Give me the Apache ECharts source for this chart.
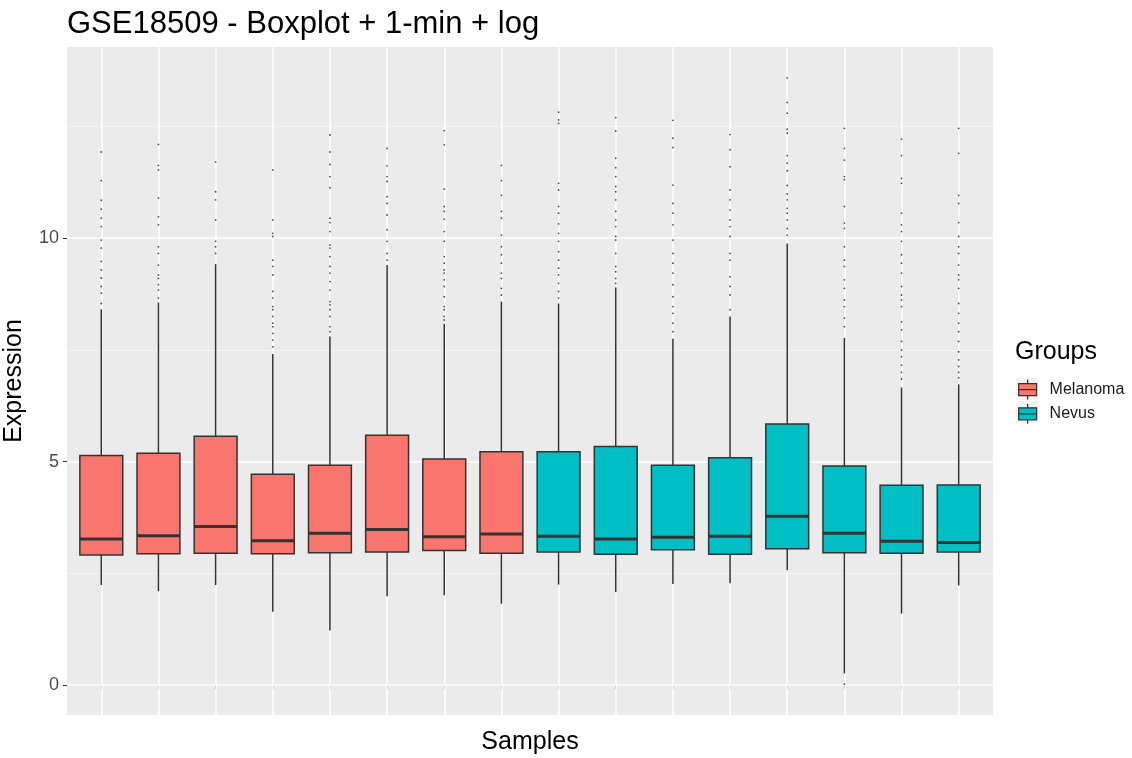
<!DOCTYPE html>
<html>
<head>
<meta charset="utf-8">
<title>GSE18509 boxplot</title>
<script src="https://cdn.jsdelivr.net/npm/echarts@6/dist/echarts.min.js"></script>
<style>
  html, body { margin: 0; padding: 0; background: #fff; }
  #chart { width: 1132px; height: 758px; }
</style>
</head>
<body>
<div id="chart"></div>
<script>
// 16 samples, first 8 melanoma, last 8 nevus
const samples = ["S1", "S2", "S3", "S4", "S5", "S6", "S7", "S8",
  "S9", "S10", "S11", "S12", "S13", "S14", "S15", "S16"];
const groups = ["Melanoma", "Melanoma", "Melanoma", "Melanoma", "Melanoma", "Melanoma", "Melanoma", "Melanoma",
  "Nevus", "Nevus", "Nevus", "Nevus", "Nevus", "Nevus", "Nevus", "Nevus"];
const groupNames = ["Melanoma", "Nevus"];
const groupColors = ["#F8766D", "#00BFC4"];

// box statistics
const whiskerLow = [2.24, 2.10, 2.24, 1.64, 1.22, 1.99, 2.01, 1.82, 2.25, 2.08, 2.26, 2.28, 2.57, 0.26, 1.60, 2.23];
const q1 = [2.91, 2.94, 2.95, 2.94, 2.96, 2.98, 3.01, 2.95, 2.98, 2.93, 3.03, 2.93, 3.05, 2.96, 2.95, 2.98];
const median = [3.27, 3.34, 3.55, 3.23, 3.40, 3.48, 3.32, 3.38, 3.33, 3.27, 3.31, 3.33, 3.78, 3.40, 3.22, 3.19];
const q3 = [5.14, 5.19, 5.57, 4.72, 4.92, 5.59, 5.06, 5.22, 5.22, 5.34, 4.92, 5.09, 5.84, 4.90, 4.47, 4.48];
const whiskerHigh = [8.41, 8.56, 9.42, 7.41, 7.80, 9.40, 8.08, 8.58, 8.54, 8.90, 7.75, 8.25, 9.88, 7.77, 6.66, 6.73];

// outlier points per sample (approximate)
const outliers = [
  [11.93, 11.29, 10.85, 10.65, 10.45, 10.26, 9.96, 9.78, 9.48, 9.29, 9.11, 8.92, 8.77, 8.54],
  [12.10, 11.63, 11.53, 10.90, 10.48, 10.30, 9.81, 9.66, 9.40, 9.18, 9.10, 8.96, 8.84, 8.66],
  [11.71, 11.04, 10.86, 10.41, 9.93, 9.81, 9.66],
  [11.53, 10.41, 10.11, 10.04, 9.51, 9.37, 9.18, 8.81, 8.66, 8.47, 8.40, 8.25, 8.10, 8.02, 7.87, 7.72, 7.57],
  [12.31, 11.93, 11.65, 11.38, 11.13, 10.45, 10.35, 10.15, 9.85, 9.78, 9.59, 9.37, 9.22, 9.03, 8.84, 8.58, 8.51, 8.40, 8.25, 8.02, 7.91],
  [12.01, 11.62, 11.38, 11.27, 10.93, 10.78, 10.52, 10.19, 9.93, 9.66, 9.51],
  [12.41, 12.09, 11.10, 10.71, 10.60, 10.43, 10.15, 9.93, 9.59, 9.44, 9.29, 9.22, 9.07, 8.92, 8.69, 8.47, 8.40, 8.25, 8.17],
  [11.63, 11.29, 10.96, 10.60, 10.45, 10.07, 9.81, 9.63, 9.44, 9.22, 9.10, 8.88, 8.73],
  [12.82, 12.65, 12.57, 11.23, 11.08, 10.71, 10.56, 10.32, 10.11, 9.93, 9.70, 9.51, 9.33, 9.18, 8.99, 8.81, 8.66],
  [12.70, 12.40, 11.79, 11.58, 11.38, 11.16, 11.04, 10.86, 10.60, 10.41, 10.26, 10.04, 9.96, 9.66, 9.37, 9.25, 9.10, 8.99],
  [12.64, 12.24, 12.03, 11.19, 10.78, 10.56, 10.30, 9.96, 9.66, 9.44, 9.22, 8.96, 8.69, 8.47, 8.32, 8.10, 7.91],
  [12.32, 11.98, 11.60, 11.08, 10.86, 10.63, 10.41, 10.26, 10.04, 9.66, 9.51, 9.14, 8.92, 8.73, 8.40],
  [13.59, 13.04, 12.80, 12.44, 12.35, 11.85, 11.68, 11.51, 11.18, 10.99, 10.86, 10.67, 10.56, 10.41, 10.22, 10.07],
  [12.46, 12.01, 11.75, 11.38, 11.31, 10.71, 10.34, 10.22, 9.81, 9.51, 9.37, 9.07, 8.88, 8.62, 8.47, 8.21, 8.02, 0.02],
  [12.22, 11.85, 11.34, 11.23, 10.56, 10.30, 10.15, 9.93, 9.63, 9.44, 9.22, 8.92, 8.73, 8.62, 8.47, 8.13, 7.95, 7.69, 7.50, 7.35, 7.16, 7.00, 6.85],
  [12.46, 11.90, 10.96, 10.78, 10.35, 10.04, 9.81, 9.66, 9.40, 9.18, 9.07, 8.88, 8.54, 8.32, 8.10, 7.91, 7.69, 7.46, 7.28, 7.13, 7.00, 6.88]
];

const yTicks = [0, 5, 10];
const yMinor = [2.5, 7.5, 12.5];

const positions = samples.map((s, i) => i + 1);

function boxData(groupName) {
  const out = [];
  samples.forEach((s, i) => {
    if (groups[i] !== groupName) return;
    out.push([positions[i], whiskerLow[i], q1[i], median[i], q3[i], whiskerHigh[i]]);
  });
  return out;
}

const outlierData = [];
outliers.forEach((list, i) => {
  list.forEach(v => outlierData.push([positions[i], v]));
});

function renderBox(params, api) {
  const x = api.value(0);
  const pLow = api.coord([x, api.value(1)]);
  const pQ1 = api.coord([x, api.value(2)]);
  const pMed = api.coord([x, api.value(3)]);
  const pQ3 = api.coord([x, api.value(4)]);
  const pHigh = api.coord([x, api.value(5)]);
  const bw = api.size([0.75, 0])[0];
  const cx = pMed[0];
  const fill = api.visual("color");
  const stroke = { stroke: "#333333", lineWidth: 1.5 };
  return {
    type: "group",
    children: [
      { type: "line", shape: { x1: cx, y1: pQ1[1], x2: cx, y2: pLow[1] }, style: stroke },
      { type: "line", shape: { x1: cx, y1: pQ3[1], x2: cx, y2: pHigh[1] }, style: stroke },
      {
        type: "rect",
        shape: { x: cx - bw / 2, y: pQ3[1], width: bw, height: pQ1[1] - pQ3[1] },
        style: { fill: fill, stroke: "#333333", lineWidth: 1.5 }
      },
      {
        type: "line",
        shape: { x1: cx - bw / 2, y1: pMed[1], x2: cx + bw / 2, y2: pMed[1] },
        style: { stroke: "#333333", lineWidth: 3 }
      }
    ]
  };
}

const gridLines = [];
positions.forEach(p => gridLines.push({ xAxis: p, lineStyle: { color: "#FFFFFF", width: 1.6, type: "solid" } }));
yTicks.forEach(v => gridLines.push({ yAxis: v, lineStyle: { color: "#FFFFFF", width: 1.6, type: "solid" } }));
yMinor.forEach(v => gridLines.push({ yAxis: v, lineStyle: { color: "#F7F7F7", width: 0.8, type: "solid" } }));

const legendIcon = "path://M2,5 L20,5 L20,17 L2,17 Z M2,11 L20,11 M11,1 L11,5 M11,17 L11,21";

const chart = echarts.init(document.getElementById("chart"));
chart.setOption({
  animation: false,
  backgroundColor: "#FFFFFF",
  textStyle: { fontFamily: "Liberation Sans, Arial, sans-serif" },
  title: [
    {
      text: "GSE18509 - Boxplot + 1-min + log",
      left: 67,
      top: 9,
      padding: 0,
      textStyle: { fontSize: 31, fontWeight: "normal", color: "#000000" }
    },
    {
      text: "Groups",
      left: 1015,
      top: 340,
      padding: 0,
      textStyle: { fontSize: 25, fontWeight: "normal", color: "#000000" }
    }
  ],
  legend: {
    orient: "vertical",
    left: 1018,
    top: 379,
    padding: 0,
    itemWidth: 18,
    itemHeight: 20,
    itemGap: 3,
    selectedMode: false,
    textStyle: { fontSize: 16, color: "#1A1A1A", padding: [0, 0, 0, 8] },
    data: groupNames.map((g, i) => ({
      name: g,
      icon: legendIcon,
      itemStyle: { color: groupColors[i], borderColor: "#333333", borderWidth: 1.2 }
    }))
  },
  graphic: [
    { type: "rect", left: 1016, top: 378, shape: { width: 22, height: 22 }, style: { fill: "#F2F2F2" }, z: -1 },
    { type: "rect", left: 1016, top: 401, shape: { width: 22, height: 22 }, style: { fill: "#F2F2F2" }, z: -1 }
  ],
  grid: {
    left: 67,
    right: 139,
    top: 47,
    bottom: 43,
    outerBoundsMode: "none",
    show: true,
    backgroundColor: "#EBEBEB",
    borderWidth: 0
  },
  xAxis: {
    type: "value",
    min: 0.4,
    max: 16.6,
    name: "Samples",
    nameLocation: "middle",
    nameGap: 15,
    nameTextStyle: { fontSize: 25, color: "#000000" },
    axisLine: { show: false },
    axisTick: { show: true, length: 4, customValues: positions, lineStyle: { color: "#333333", width: 1 } },
    axisLabel: { show: false, customValues: positions },
    splitLine: { show: false }
  },
  yAxis: {
    type: "value",
    min: -0.67,
    max: 14.28,
    name: "Expression",
    nameLocation: "middle",
    nameGap: 40,
    nameMoveOverlap: false,
    nameTextStyle: { fontSize: 25, color: "#000000" },
    axisLine: { show: false },
    axisTick: { show: true, length: 4, customValues: yTicks, lineStyle: { color: "#333333", width: 1 } },
    axisLabel: { customValues: yTicks, fontSize: 18, color: "#4D4D4D", margin: 8 },
    splitLine: { show: false }
  },
  series: [
    {
      type: "scatter",
      name: "grid",
      data: [],
      z: 1,
      silent: true,
      markLine: {
        z: 1,
        silent: true,
        symbol: ["none", "none"],
        label: { show: false },
        animation: false,
        data: gridLines
      }
    },
    {
      type: "custom",
      name: "Melanoma",
      z: 3,
      itemStyle: { color: groupColors[0], borderColor: "#333333", borderWidth: 1.2 },
      renderItem: renderBox,
      encode: { x: 0, y: [1, 2, 3, 4, 5] },
      data: boxData("Melanoma")
    },
    {
      type: "custom",
      name: "Nevus",
      z: 3,
      itemStyle: { color: groupColors[1], borderColor: "#333333", borderWidth: 1.2 },
      renderItem: renderBox,
      encode: { x: 0, y: [1, 2, 3, 4, 5] },
      data: boxData("Nevus")
    },
    {
      type: "scatter",
      name: "outliers",
      z: 4,
      symbolSize: 1.8,
      itemStyle: { color: "#222222" },
      data: outlierData
    }
  ]
});
</script>
</body>
</html>
